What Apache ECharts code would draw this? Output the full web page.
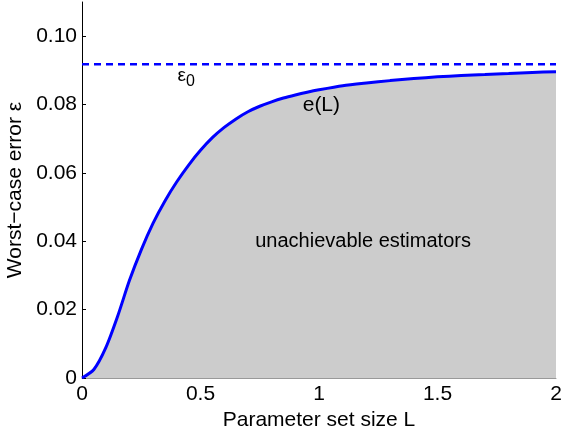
<!DOCTYPE html>
<html>
<head>
<meta charset="UTF-8">
<title>Worst-case error</title>
<style>
  html, body { margin: 0; padding: 0; background: #fff; }
  #main { width: 564px; height: 428px; }
</style>
</head>
<body>
<div id="main"></div>
<script src="https://cdn.jsdelivr.net/npm/echarts@6/dist/echarts.min.js"></script>
<script>
// parameter set size L and the curve e(L)
var sizeL = [0, 0.05, 0.1, 0.15, 0.2, 0.25, 0.3, 0.35, 0.4, 0.45, 0.5,
             0.55, 0.6, 0.65, 0.7, 0.75, 0.8, 0.85, 0.9, 0.95, 1.0,
             1.1, 1.2, 1.3, 1.4, 1.5, 1.6, 1.7, 1.8, 1.9, 2.0];
var errL = [0, 0.0025, 0.0088, 0.0180, 0.0285, 0.0375, 0.0453, 0.0518, 0.0574, 0.0623, 0.0666,
            0.0703, 0.0733, 0.0758, 0.0779, 0.0795, 0.0808, 0.0819, 0.0828, 0.0836, 0.0843,
            0.0855, 0.0863, 0.0870, 0.0876, 0.0881, 0.0885, 0.0888, 0.0891, 0.0894, 0.0896];
var eps0 = 0.0918;
var xTicks = [0, 0.5, 1, 1.5, 2];
var yTicks = [0, 0.02, 0.04, 0.06, 0.08, 0.10];
var yTickLabels = ['0', '0.02', '0.04', '0.06', '0.08', '0.10'];

var font = 'Liberation Sans, Arial, Helvetica, sans-serif';
var curve = sizeL.map(function (l, i) { return [l, errL[i]]; });
var epsLine = [[sizeL[0], eps0], [sizeL[sizeL.length - 1], eps0]];

var myChart = echarts.init(document.getElementById('main'));
myChart.setOption({
  animation: false,
  textStyle: { fontFamily: font },
  grid: { left: 82, right: 8, top: 2, bottom: 50, containLabel: false, outerBoundsMode: 'none' },
  xAxis: {
    type: 'value', min: 0, max: 2, interval: 0.5,
    name: 'Parameter set size L', nameLocation: 'middle', nameGap: 16,
    nameTextStyle: { fontSize: 21, color: '#000', fontFamily: font },
    axisLine: { show: true, lineStyle: { color: '#999', width: 1 } },
    axisTick: { show: false },
    splitLine: { show: false },
    axisLabel: {
      customValues: xTicks, margin: 6, fontSize: 21, color: '#000', fontFamily: font,
      formatter: function (v) { return String(v); }
    }
  },
  yAxis: {
    type: 'value', min: 0, max: 0.11,
    name: 'Worst\u2212case error \u03b5', nameLocation: 'middle', nameGap: 51,
    nameTextStyle: { fontSize: 21, color: '#000', fontFamily: font },
    axisLine: { show: true, lineStyle: { color: '#000', width: 1 } },
    axisTick: { show: true, inside: true, length: 4, customValues: yTicks, lineStyle: { color: '#000' } },
    splitLine: { show: false },
    axisLabel: {
      customValues: yTicks, margin: 5, fontSize: 21, color: '#000', fontFamily: font,
      formatter: function (v) {
        var i = yTicks.findIndex(function (t) { return Math.abs(t - v) < 1e-9; });
        return i >= 0 ? yTickLabels[i] : '';
      }
    }
  },
  series: [
    {
      name: 'e(L)', type: 'line', data: curve,
      smooth: 0.25, showSymbol: false,
      lineStyle: { color: '#0000ff', width: 3 },
      areaStyle: { color: '#cccccc', opacity: 1 },
      z: 2,
      markPoint: {
        symbol: 'circle', symbolSize: 0,
        label: { show: true, color: '#000', fontFamily: font },
        data: [
          { coord: [1.01, 0.0797], label: { formatter: 'e(L)', fontSize: 21 } },
          { coord: [1.186, 0.0398], label: { formatter: 'unachievable estimators', fontSize: 20 } }
        ]
      }
    },
    {
      name: 'eps0', type: 'line', data: epsLine, showSymbol: false,
      lineStyle: { color: '#0000ff', width: 2.5, type: [7, 5] },
      z: 3,
      markPoint: {
        symbol: 'circle', symbolSize: 0,
        label: {
          show: true, color: '#000', fontFamily: font,
          formatter: '{e|\u03b5}{s|0}',
          rich: {
            e: { fontSize: 19, fontFamily: font, verticalAlign: 'bottom', padding: [0, 0, 4, 0] },
            s: { fontSize: 16, fontFamily: font, verticalAlign: 'top', padding: [7, 0, 0, 0] }
          }
        },
        data: [ { coord: [0.44, 0.0878] } ]
      }
    }
  ]
});
</script>
</body>
</html>
